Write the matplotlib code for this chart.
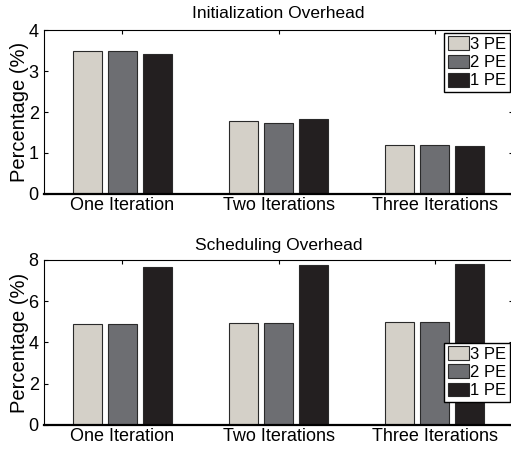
import matplotlib
matplotlib.use("Agg")
import matplotlib.pyplot as plt
import numpy as np

plt.rcParams.update({
    "font.family": ["Liberation Sans", "DejaVu Sans"],
    "font.size": 13,
})

groups = ["One Iteration", "Two Iterations", "Three Iterations"]
series = ["3 PE", "2 PE", "1 PE"]
colors = ["#d4d0c8", "#6d6e72", "#231f20"]

init_overhead = {
    "3 PE": [3.50, 1.78, 1.20],
    "2 PE": [3.50, 1.72, 1.20],
    "1 PE": [3.41, 1.83, 1.17],
}
sched_overhead = {
    "3 PE": [4.88, 4.95, 4.98],
    "2 PE": [4.88, 4.95, 4.98],
    "1 PE": [7.65, 7.77, 7.82],
}

fig = plt.figure(figsize=(5.11, 4.49), dpi=100)
ax_top = fig.add_axes([0.0867, 0.568, 0.917, 0.365])
ax_bot = fig.add_axes([0.0867, 0.0535, 0.917, 0.3675])

x = np.arange(1, len(groups) + 1)
offsets = [-0.224, 0.0, 0.224]
width = 0.185


def draw(ax, data, title, ymax, yticks, legend_anchor, title_pad):
    for s, off, c in zip(series, offsets, colors):
        ax.bar(x + off, data[s], width, color=c, edgecolor="#2a2a2a",
               linewidth=0.8, label=s)
    ax.set_xlim(0.5, 3.5)
    ax.set_ylim(0, ymax)
    ax.set_xticks(x)
    ax.set_xticklabels(groups)
    ax.set_yticks(yticks)
    ax.tick_params(direction="in", top=True, right=True, length=3,
                   width=0.8)
    ax.tick_params(axis="x", pad=2, bottom=False)
    ax.tick_params(axis="y", pad=4)
    ax.set_ylabel("Percentage (%)", fontsize=14.5, labelpad=0)
    ax.set_title(title, fontsize=12.5, pad=title_pad)
    for sp in ("top", "right", "left"):
        ax.spines[sp].set_linewidth(0.8)
    ax.spines["bottom"].set_linewidth(1.6)
    leg = ax.legend(loc="upper right", bbox_to_anchor=legend_anchor,
                    borderaxespad=0, fancybox=False, framealpha=1,
                    edgecolor="black", handlelength=1.25, handleheight=0.9,
                    handletextpad=0.1, labelspacing=0.15, borderpad=0.2,
                    prop={"family": ["Liberation Sans Narrow", "Liberation Sans"],
                          "size": 12})
    leg.get_frame().set_linewidth(1.0)


draw(ax_top, init_overhead, "Initialization Overhead", 4, [0, 1, 2, 3, 4],
     (0.9936, 0.982), 9)
draw(ax_bot, sched_overhead, "Scheduling Overhead", 8, [0, 2, 4, 6, 8],
     (0.9936, 0.497), 7)

fig.savefig("out.png", dpi=100, facecolor="white")
